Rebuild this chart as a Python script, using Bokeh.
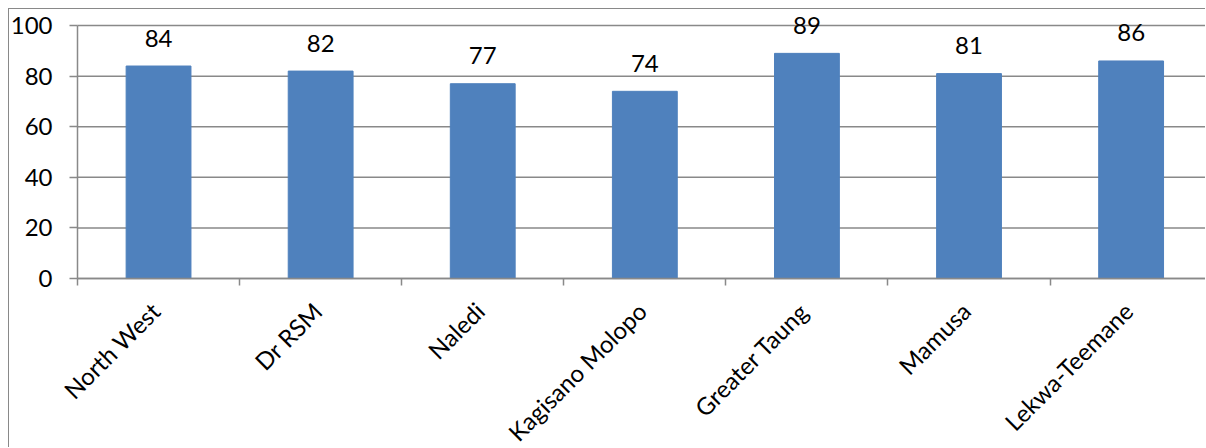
import math

from bokeh.core.properties import value
from bokeh.embed import file_html
from bokeh.models import ColumnDataSource, FixedTicker, Range1d
from bokeh.plotting import figure
from bokeh.resources import INLINE

# Data
categories = ["North West", "Dr RSM", "Naledi", "Kagisano Molopo",
              "Greater Taung", "Mamusa", "Lekwa-Teemane"]
scores = [84, 82, 77, 74, 89, 81, 86]
y_ticks = [0, 20, 40, 60, 80, 100]

FONT = "Lato"
FONT_SIZE = "24px"
GREY = "#898989"
BAR = "#4F81BD"

WIDTH, HEIGHT = 1197, 439
LEFT = 68            # room for the value-axis labels, in pixels
X_END = 6.965        # visible part of the category range
Y_TOP = 106.34
PX_PER_Y = 2.53

n = len(categories)
centers = [i + 0.5 for i in range(n)]
source = ColumnDataSource(dict(x=centers, top=scores, name=categories,
                               label=[str(v) for v in scores]))

px_per_x = (WIDTH - LEFT) / X_END
x_range = Range1d(-LEFT / px_per_x, X_END)
y_range = Range1d(Y_TOP - HEIGHT / PX_PER_Y, Y_TOP)

# The frame fills the whole canvas; both axes sit at fixed data positions
# so the slanted category names can be drawn inside it.
p = figure(width=WIDTH, height=HEIGHT, output_backend="svg",
           toolbar_location=None, title=None,
           x_range=x_range, y_range=y_range,
           min_border_left=0, min_border_right=0,
           min_border_top=0, min_border_bottom=0)
p.margin = (8, 0, 0, 8)
p.styles = {"border-left": f"1px solid {GREY}", "border-top": f"1px solid {GREY}"}
p.outline_line_color = None
p.background_fill_color = "white"
p.border_fill_color = "white"
p.xgrid.visible = False
p.ygrid.visible = False

# horizontal grid lines across the category span
p.segment(x0=0, x1=n, y0=y_ticks, y1=y_ticks,
          line_color=GREY, line_width=1.5)

# bars and value labels
p.vbar(x="x", top="top", width=0.4, bottom=0, source=source,
       fill_color=BAR, line_color=BAR)
p.text(x="x", y="top", text="label", source=source,
       text_align="center", text_baseline="alphabetic", y_offset=-28,
       text_font=value(FONT), text_font_size=FONT_SIZE, text_color="black")

# slanted category names under the axis
p.text(x="x", y=0, text="name", source=source,
       angle=math.pi / 4, text_align="right", text_baseline="middle",
       x_offset=-3, y_offset=28,
       text_font=value(FONT), text_font_size=FONT_SIZE, text_color="black")

# value axis
yax = p.yaxis[0]
yax.fixed_location = 0
yax.ticker = FixedTicker(ticks=y_ticks)
yax.bounds = (0, 100)
yax.axis_line_color = GREY
yax.axis_line_width = 1.5
yax.major_tick_line_color = GREY
yax.major_tick_line_width = 1.5
yax.major_tick_out = 8
yax.major_tick_in = 0
yax.minor_tick_out = 0
yax.minor_tick_in = 0
yax.major_label_standoff = 17
yax.major_label_text_font = FONT
yax.major_label_text_font_size = FONT_SIZE
yax.major_label_text_color = "black"

# category axis: tick marks at the category boundaries only
xax = p.xaxis[0]
xax.fixed_location = 0
xax.ticker = FixedTicker(ticks=[], minor_ticks=list(range(n + 1)))
xax.bounds = (0, n)
xax.axis_line_color = GREY
xax.axis_line_width = 1.5
xax.major_tick_out = 0
xax.major_tick_in = 0
xax.minor_tick_out = 7
xax.minor_tick_in = 0
xax.minor_tick_line_color = GREY
xax.minor_tick_line_width = 1.5

open("out.html", "w").write(file_html(p, INLINE))
